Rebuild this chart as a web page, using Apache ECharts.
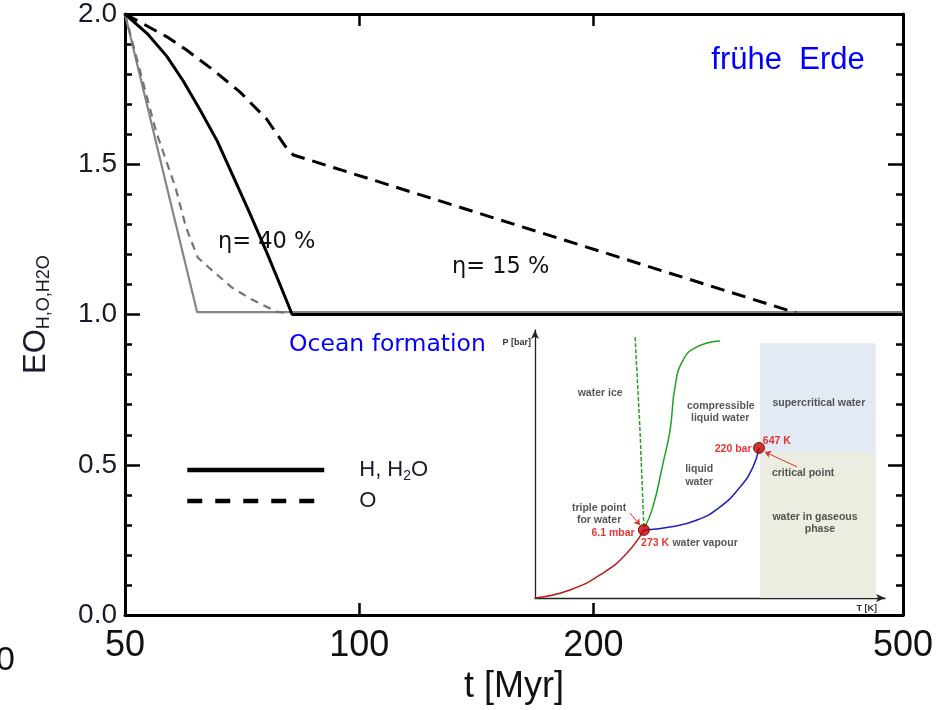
<!DOCTYPE html>
<html>
<head>
<meta charset="utf-8">
<script src="https://cdn.jsdelivr.net/npm/echarts@6/dist/echarts.min.js"></script>
<style>
html, body { margin: 0; padding: 0; background: #fff; }
#chart { width: 937px; height: 710px; }
</style>
</head>
<body>
<div id="chart"></div>
<script>
// main panel: EO over t [Myr] (log time axis)
var tBlackSolid = [50, 53.4, 56.6, 59.4, 62.4, 65.7, 68.8, 72.4, 76.1, 79.1, 82.0, 500];
var eoBlackSolid = [2.0, 1.935, 1.859, 1.777, 1.682, 1.577, 1.462, 1.335, 1.205, 1.1, 1.0, 1.0];
var tBlackDash = [50, 52.8, 56.6, 60.0, 64.9, 70.3, 76.0, 80.7, 82.3, 364];
var eoBlackDash = [2.0, 1.967, 1.924, 1.880, 1.814, 1.740, 1.651, 1.553, 1.531, 1.006];
var tGraySolid = [50, 61.9, 500];
var eoGraySolid = [2.0, 1.008, 1.008];
var tGrayDash = [50, 54.8, 58.1, 59.9, 62.0, 64.7, 68.6, 72.9, 78.3, 80.5];
var eoGrayDash = [2.0, 1.61, 1.42, 1.29, 1.19, 1.147, 1.09, 1.049, 1.01, 1.005];

var xLabelValues = [50, 100, 200, 500];
var xTickValues = [100, 200];

// inset: phase diagram of water (arbitrary T / P units 0..100)
var redT = [0, 10, 19.4, 26.3, 31.1];
var redP = [0, 3, 9.3, 16.8, 25.4];
var blueT = [31.1, 38.6, 46.3, 52.9, 58.6, 62.3, 64];
var blueP = [25.4, 26.5, 29.1, 34, 41.4, 48.9, 56];
var meltT = [31.4, 33.7, 36.6, 38.6, 40, 42.3, 46.3, 52.9];
var meltP = [26.5, 34, 50.4, 62.7, 78.7, 88.8, 93.7, 95.9];
var iceT = [31.1, 30, 28.6];
var iceP = [26.5, 62.7, 97.4];
var pointT = [31.1, 64];
var pointP = [25.4, 56];
var superT = [64.3, 97.4];
var superP = [54.5, 95.1];
var gasT = [64.3, 97.4];
var gasP = [0, 54.5];
var insetNotes = [
  [18.6, 76.5, 'water ice', '#2a2a2a'],
  [53.1, 71.6, 'compressible', '#2a2a2a'],
  [52.9, 67.2, 'liquid water', '#2a2a2a'],
  [81.1, 72.8, 'supercritical water', '#2a2a2a'],
  [69.1, 58.6, '647 K', '#e00000'],
  [56.6, 55.6, '220 bar', '#e00000'],
  [76.6, 46.6, 'critical point', '#2a2a2a'],
  [46.9, 48.1, 'liquid', '#2a2a2a'],
  [46.9, 43.3, 'water', '#2a2a2a'],
  [18.3, 33.6, 'triple point', '#2a2a2a'],
  [18.3, 29.1, 'for water', '#2a2a2a'],
  [22.3, 24.3, '6.1 mbar', '#e00000'],
  [34.3, 20.5, '273 K', '#e00000'],
  [48.6, 20.5, 'water vapour', '#2a2a2a'],
  [80.0, 30.2, 'water in gaseous', '#2a2a2a'],
  [81.4, 25.7, 'phase', '#2a2a2a']
];
var arrowFrom = [[27.1, 31.7], [74.9, 48.9]];
var arrowTo = [[30.0, 27.2], [65.7, 54.5]];

var lg = function (v) { return Math.log10(v); };
function pairs(xs, ys, f) {
  return xs.map(function (x, i) { return [f ? f(x) : x, ys[i]]; });
}

var sans = '"Liberation Sans", Arial, sans-serif';
var dejavu = '"DejaVu Sans", Verdana, sans-serif';

var chart = echarts.init(document.getElementById('chart'));

function mainX(pos, labels) {
  return {
    type: 'value', gridIndex: 0, position: pos,
    min: lg(50), max: lg(500),
    axisLine: { show: true, onZero: false, lineStyle: { color: '#000', width: 3 } },
    axisTick: { show: true, inside: true, length: 12, customValues: xTickValues.map(lg),
      lineStyle: { color: '#000', width: 2.5 } },
    axisLabel: labels ? {
      customValues: xLabelValues.map(lg),
      formatter: function (v) { return String(Math.round(Math.pow(10, v))); },
      fontFamily: sans, fontSize: 36, color: '#111', margin: 13
    } : { show: false },
    splitLine: { show: false }
  };
}
function mainY(pos, labels) {
  return {
    type: 'value', gridIndex: 0, position: pos,
    min: 0, max: 2, interval: 0.5,
    axisLine: { show: true, onZero: false, lineStyle: { color: '#000', width: 3 } },
    axisTick: { show: true, inside: true, length: 15, lineStyle: { color: '#000', width: 2.5 } },
    minorTick: { show: true, splitNumber: 5, length: 7, lineStyle: { color: '#000', width: 2.5 } },
    axisLabel: labels ? {
      formatter: function (v) { return v.toFixed(1); },
      fontFamily: sans, fontSize: 28, color: '#1a1a2a', margin: 8
    } : { show: false },
    splitLine: { show: false }
  };
}

var xBottom = mainX('bottom', true);
xBottom.name = 't [Myr]';
xBottom.nameLocation = 'middle';
xBottom.nameGap = 48;
xBottom.nameTextStyle = { fontFamily: sans, fontSize: 36, color: '#111' };

var yLeft = mainY('left', true);
yLeft.name = '{a|EO}{b|H,O,H2O}';
yLeft.nameLocation = 'middle';
yLeft.nameRotate = 90;
yLeft.nameGap = 72;
yLeft.nameTextStyle = {
  rich: {
    a: { fontFamily: sans, fontSize: 31, color: '#1a1a2a' },
    b: { fontFamily: sans, fontSize: 18, color: '#1a1a2a', padding: [16, 0, 0, 0] }
  }
};

function insetAxis(isX) {
  return {
    type: 'value', gridIndex: 1, min: 0, max: 100,
    axisLine: { show: true, onZero: false, symbol: ['none', 'arrow'], symbolSize: [6, 9],
      lineStyle: { color: '#222', width: 1.3 } },
    axisTick: { show: false }, axisLabel: { show: false }, splitLine: { show: false },
    name: isX ? 'T [K]' : 'P [bar]',
    nameGap: isX ? -8 : -13,
    nameTextStyle: isX
      ? { fontFamily: sans, fontSize: 9, fontWeight: 'bold', color: '#333', align: 'right', verticalAlign: 'top', padding: [6, 0, 0, 0] }
      : { fontFamily: sans, fontSize: 9, fontWeight: 'bold', color: '#333', align: 'right', verticalAlign: 'middle', padding: [0, 4, 0, 0] }
  };
}

function curve(name, xs, ys, color, w, type, xi, yi, smooth, f) {
  return {
    name: name, type: 'line', xAxisIndex: xi, yAxisIndex: yi,
    data: pairs(xs, ys, f), symbol: 'none', smooth: smooth, silent: true,
    lineStyle: { color: color, width: w, type: type || 'solid' },
    itemStyle: { color: color }
  };
}

var series = [
  curve('H, H2O (gray)', tGraySolid, eoGraySolid, '#858585', 2.2, 'solid', 0, 0, false, lg),
  curve('O (gray)', tGrayDash, eoGrayDash, '#737373', 2.2, [8, 6], 0, 0, false, lg),
  curve('O', tBlackDash, eoBlackDash, '#000', 3, [14, 8], 0, 0, false, lg),
  curve('H, H2O', tBlackSolid, eoBlackSolid, '#000', 3, 'solid', 0, 0, false, lg)
];

var redCurve = curve('sublimation', redT, redP, '#b81c1c', 1.5, 'solid', 2, 2, true);
redCurve.markArea = {
  silent: true,
  data: [
    [{ coord: [superT[0], superP[0]], itemStyle: { color: '#e4eaf4' } }, { coord: [superT[1], superP[1]] }],
    [{ coord: [gasT[0], gasP[0]], itemStyle: { color: '#eaeddf' } }, { coord: [gasT[1], gasP[1]] }]
  ]
};
series.push(redCurve);
series.push(curve('vaporization', blueT, blueP, '#1f1fb8', 1.5, 'solid', 2, 2, true));
series.push(curve('melting', meltT, meltP, '#22a022', 1.5, 'solid', 2, 2, true));
series.push(curve('ice', iceT, iceP, '#22a022', 1.5, [4, 2], 2, 2, false));
series.push({
  type: 'lines', coordinateSystem: 'cartesian2d', xAxisIndex: 2, yAxisIndex: 2, silent: true,
  symbol: ['none', 'arrow'], symbolSize: 6,
  lineStyle: { color: '#e03030', width: 1, opacity: 1 },
  data: arrowFrom.map(function (a, i) { return { coords: [a, arrowTo[i]] }; })
});
series.push({
  type: 'scatter', xAxisIndex: 2, yAxisIndex: 2, silent: true, z: 5,
  data: pairs(pointT, pointP), symbolSize: 11,
  itemStyle: { color: '#c40000', borderColor: '#5a0000', borderWidth: 1 }
});
series.push({
  type: 'scatter', xAxisIndex: 2, yAxisIndex: 2, silent: true, z: 6,
  symbolSize: 0,
  data: insetNotes.map(function (n) {
    return { value: [n[0], n[1]], label: { formatter: n[2], color: n[3] } };
  }),
  label: { show: true, position: 'inside', fontFamily: sans, fontSize: 10.5, fontWeight: 'bold' }
});

chart.setOption({
  animation: false,
  backgroundColor: '#fff',
  grid: [
    { left: 125, top: 10, width: 778, height: 611 },
    { left: 535, top: 330, width: 350, height: 268 }
  ],
  xAxis: [xBottom, mainX('top', false), insetAxis(true)],
  yAxis: [yLeft, mainY('right', false), insetAxis(false)],
  legend: {
    data: [
      { name: 'H, H2O', lineStyle: { width: 4.5, type: 'solid' }, itemStyle: { opacity: 0 } },
      { name: 'O', lineStyle: { width: 4.5, type: [15, 13] }, itemStyle: { opacity: 0 } }
    ],
    orient: 'vertical', left: 180, top: 454,
    itemWidth: 137, itemHeight: 14, itemGap: 7,
    itemStyle: { opacity: 0 },
    selectedMode: false,
    formatter: function (n) { return n === 'H, H2O' ? 'H, H{s|2}O' : n; },
    textStyle: {
      fontFamily: sans, fontSize: 22, color: '#1a1a2a', padding: [0, 0, 0, 30],
      rich: { s: { fontFamily: sans, fontSize: 14, color: '#1a1a2a', padding: [12, 0, 0, 0] } }
    }
  },
  graphic: [
    { type: 'text', x: 788, y: 60, silent: true,
      style: { text: 'frühe  Erde', fill: '#0000ff', fontFamily: sans, fontSize: 31, align: 'center', verticalAlign: 'middle' } },
    { type: 'text', x: 289, y: 345, silent: true,
      style: { text: 'Ocean formation', fill: '#0000ff', fontFamily: dejavu, fontSize: 23.5, align: 'left', verticalAlign: 'middle' } },
    { type: 'text', x: 218, y: 242, silent: true,
      style: { text: 'η= 40 %', fill: '#111', fontFamily: dejavu, fontSize: 22.5, align: 'left', verticalAlign: 'middle' } },
    { type: 'text', x: 452, y: 267, silent: true,
      style: { text: 'η= 15 %', fill: '#111', fontFamily: dejavu, fontSize: 22.5, align: 'left', verticalAlign: 'middle' } },
    { type: 'text', x: -4, y: 661, silent: true,
      style: { text: '0', fill: '#111', fontFamily: sans, fontSize: 34, align: 'left', verticalAlign: 'middle' } }
  ],
  series: series
});
</script>
</body>
</html>
